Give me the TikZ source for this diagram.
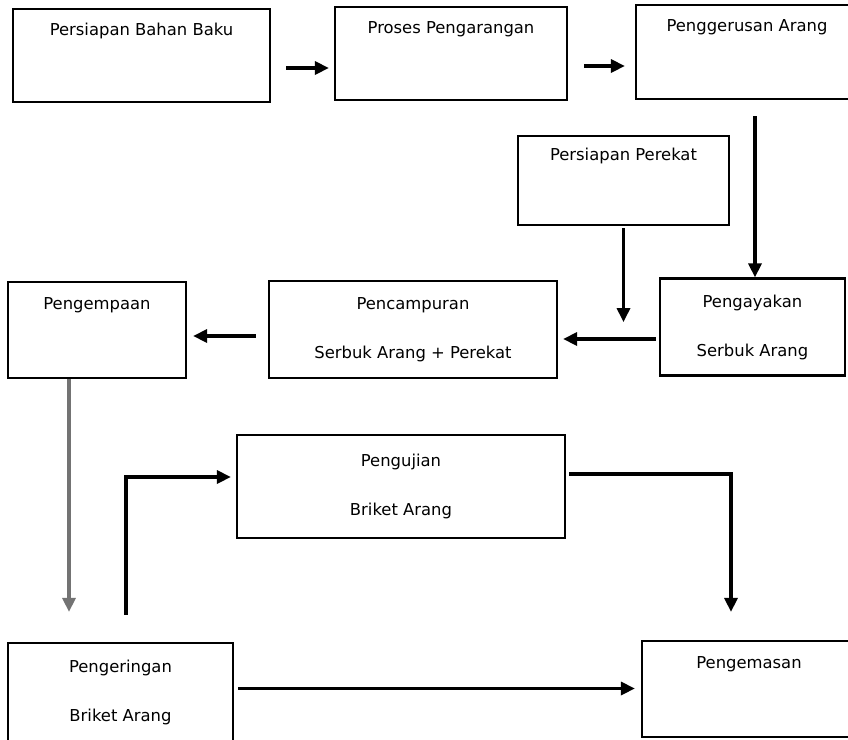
\documentclass[tikz,border=0pt]{standalone}
\usepackage{fontspec}
\setmainfont{DejaVu Sans}
\usetikzlibrary{arrows.meta}

\begin{document}
\begin{tikzpicture}[x=0.5pt,y=-0.5pt,
    box/.style={draw, line width=1.1pt, align=center, inner sep=0pt,
      font=\fontsize{8.2}{24.5}\selectfont},
    arr/.style={line width=1.6pt, -{Triangle[length=7pt,width=6.5pt]}}]
    \useasboundingbox (0,0) rectangle (848,740);
    % baris atas
    \node[box, minimum width=128.5pt, minimum height=46.5pt] (bahan) at (141.5,55.5) {Persiapan Bahan Baku\\ \vphantom{g}};
    \node[box, minimum width=116pt, minimum height=46.5pt] (arang) at (451,53.5) {Proses Pengarangan\\ \vphantom{g}};
    \node[box, minimum width=111pt, minimum height=47pt] (gerus) at (747,52) {Penggerusan Arang\\ \vphantom{g}};
    \node[box, minimum width=105.5pt, minimum height=44.5pt] (perekat) at (623.5,180.5) {Persiapan Perekat\\ \vphantom{g}};
    
    % baris tengah
    \node[box, minimum width=92.5pt, minimum height=48.5pt] (ayak) at (752.5,327) {Pengayakan\\Serbuk Arang};
    \node[box, minimum width=144pt, minimum height=48.5pt] (campur) at (413,329.5) {Pencampuran\\Serbuk Arang + Perekat};
    \node[box, minimum width=89pt, minimum height=48pt] (kempa) at (97,330) {Pengempaan\\ \vphantom{g}};
    
    % baris bawah
    \node[box, minimum width=164pt, minimum height=51.5pt] (uji) at (401,486.5) {Pengujian\\Briket Arang};
    \node[box, minimum width=112.5pt, minimum height=49.5pt] (kering) at (120.5,692.5) {Pengeringan\\Briket Arang};
    \node[box, minimum width=107pt, minimum height=48pt] (kemas) at (749,689) {Pengemasan\\ \vphantom{g}};
    
    % panah
    \path ([shift={(15,12.5)}]bahan.east) coordinate (p1);
    \draw[arr, shorten >=2.5pt] (p1) -- (p1 -| arang.west);
    \path ([shift={(16,12.5)}]arang.east) coordinate (p2);
    \draw[arr, shorten >=5pt] (p2) -- (p2 -| gerus.west);
    \path ([shift={(8,16)}]gerus.south) coordinate (p3);
    \draw[arr] (p3) -- (p3 |- ayak.north);
    \coordinate (lepas) at ([yshift=-48pt]perekat.south);
    \draw[arr] ([yshift=-1pt]perekat.south) -- (lepas);
    \path ([shift={(-3,12)}]ayak.west) coordinate (p4);
    \draw[arr, shorten <=0pt] (p4) -- ([xshift=2.5pt]p4 -| campur.east);
    \path ([shift={(-12,6.5)}]campur.west) coordinate (p5);
    \draw[arr, shorten >=3pt] (p5) -- (p5 -| kempa.east);
    \path ([xshift=-14pt]kempa.south) coordinate (p6);
    \draw[arr, black!55, shorten >=15pt] (p6) -- (p6 |- kering.north);
    \path ([shift={(5.5,-27)}]kering.north) coordinate (p7);
    \path ([yshift=4.75pt]uji.west) coordinate (p8);
    \draw[arr, shorten >=2.5pt] (p7) |- (p8);
    \path ([shift={(3,-12.5)}]uji.east) coordinate (p9);
    \path ([xshift=-9pt]kemas.north) coordinate (p10);
    \draw[arr, shorten >=14pt] (p9) -| (p10);
    \path ([shift={(4,-4)}]kering.east) coordinate (p11);
    \draw[arr, shorten >=3pt] (p11) -- (p11 -| kemas.west);
\end{tikzpicture}
\end{document}
